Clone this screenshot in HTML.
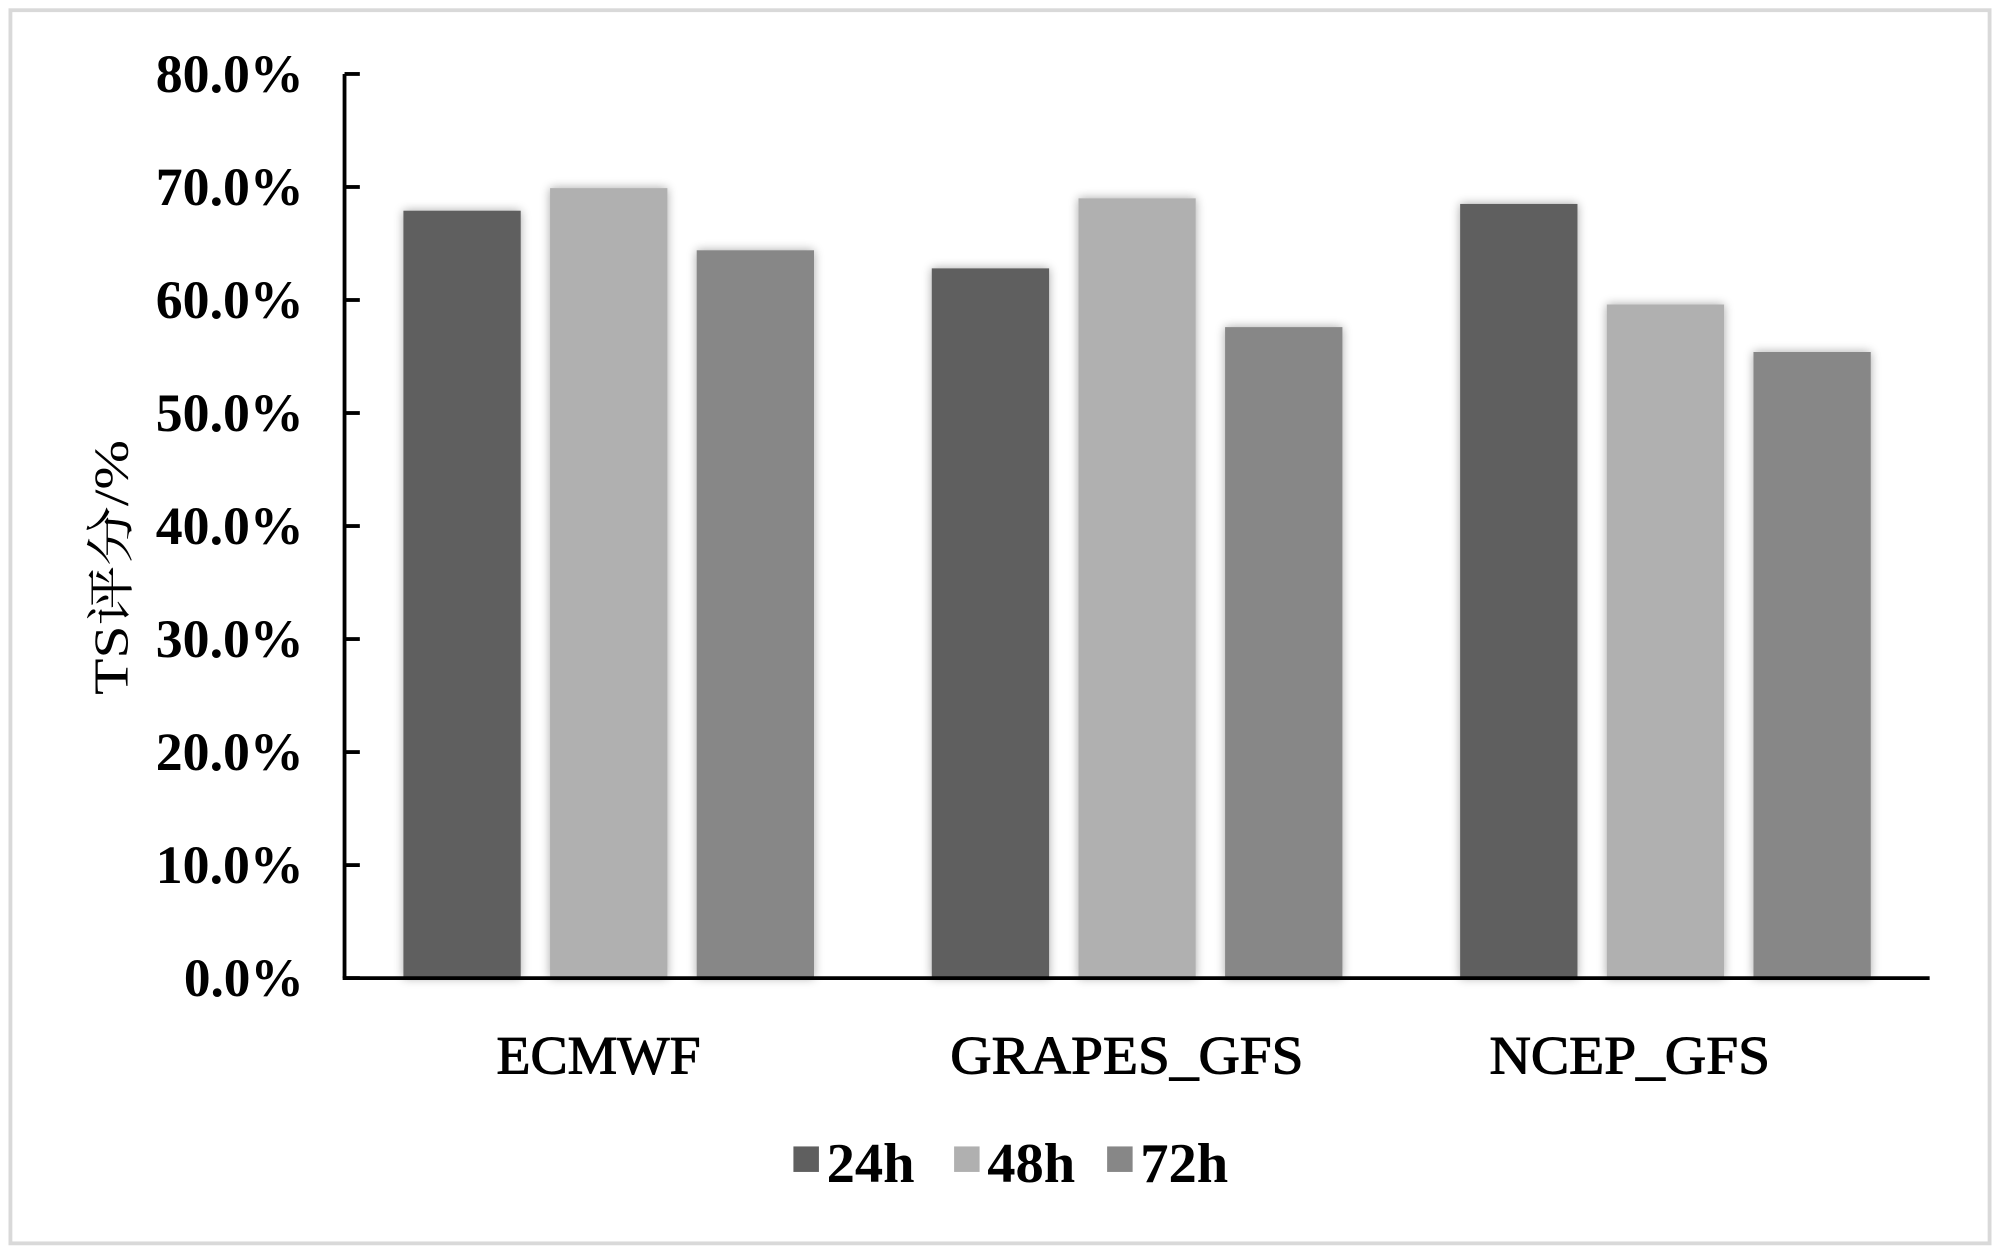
<!DOCTYPE html>
<html><head><meta charset="utf-8"><style>
html,body{margin:0;padding:0;background:#fff}
svg{display:block}
text{font-family:"Liberation Serif","Times New Roman","Noto Serif CJK SC",serif;fill:#000}
</style></head><body>
<svg id="chart" width="2000" height="1251" viewBox="0 0 1568 981" xmlns="http://www.w3.org/2000/svg" font-family="Liberation Serif, Noto Serif CJK SC, serif">
<defs><filter id="sh" x="-20%" y="-5%" width="140%" height="110%"><feGaussianBlur in="SourceAlpha" stdDeviation="4"/><feComponentTransfer><feFuncA type="linear" slope="0.35"/></feComponentTransfer><feMerge><feMergeNode/><feMergeNode in="SourceGraphic"/></feMerge></filter></defs>
<rect x="8" y="8" width="1552" height="967" fill="#fff" stroke="#d9d9d9" stroke-width="3"/>
<g id="bars"></g>
<g id="axes"></g>
<text transform="translate(100,445) rotate(-90)" text-anchor="middle" font-size="38" textLength="200" lengthAdjust="spacingAndGlyphs">TS评分/%</text>
<g id="legend"></g>
</svg>
<script>
const categories = ["ECMWF", "GRAPES_GFS", "NCEP_GFS"];
const seriesNames = ["24h", "48h", "72h"];
const v24 = [67.9, 62.8, 68.5];
const v48 = [69.9, 69.0, 59.6];
const v72 = [64.4, 57.6, 55.4];
const yTicks = [0, 10, 20, 30, 40, 50, 60, 70, 80];
const yTickLabels = ["0.0%","10.0%","20.0%","30.0%","40.0%","50.0%","60.0%","70.0%","80.0%"];

const NS = "http://www.w3.org/2000/svg";
const colors = ["#5f5f5f", "#b0b0b0", "#878787"];
const X0 = 270, X1 = 1513, Y0 = 767, Y1 = 58, YMAX = 80;
const y = v => Y0 - (v / YMAX) * (Y0 - Y1);
const catW = (X1 - X0) / categories.length;
const catC = i => X0 + catW * (i + 0.5);
const barW = 92, step = 115;
function mk(tag, attrs, parent) { const e = document.createElementNS(NS, tag); for (const k in attrs) e.setAttribute(k, attrs[k]); parent.appendChild(e); return e; }

const bars = document.getElementById("bars");
const series = [v24, v48, v72];
series.forEach((vals, s) => {
  vals.forEach((v, i) => {
    const cx = catC(i) + (s - 1) * step;
    const r = mk("rect", { x: cx - barW / 2, y: y(v), width: barW, height: Y0 - y(v), fill: colors[s], filter: "url(#sh)" }, bars);
    
    
  });
});

const axes = document.getElementById("axes");
const ya = mk("line", { x1: X0, y1: Y1, x2: X0, y2: Y0, stroke: "#000", "stroke-width": 3 }, axes);


const xa = mk("line", { x1: X0 - 1.5, y1: Y0, x2: X1, y2: Y0, stroke: "#000", "stroke-width": 3 }, axes);


yTicks.forEach((t, i) => {
  const tk = mk("line", { x1: X0, y1: y(t), x2: X0 + 12, y2: y(t), stroke: "#000", "stroke-width": 3 }, axes);
  
  
  const lab = yTickLabels[i];
  const tl = mk("text", { x: 238, y: y(t) + 14, "text-anchor": "end", "font-size": 42, "font-weight": "bold", textLength: lab.length === 4 ? 94 : 116, lengthAdjust: "spacingAndGlyphs" }, axes);
  tl.textContent = lab;
  
  
});
const catLen = [160, 277, 220];
categories.forEach((c, i) => {
  const t = mk("text", { x: catC(i) - 8 - catLen[i] / 2 - (i === 2 ? 20 : 0), y: 842, "font-size": 42, stroke: "#000", "stroke-width": 0.8, textLength: catLen[i], lengthAdjust: "spacingAndGlyphs" }, axes);
  t.textContent = c;
  
  
});

const legend = document.getElementById("legend");
const lx = [622, 748, 868];
seriesNames.forEach((n, s) => {
  const g = mk("g", {}, legend);
  
  
  mk("rect", { x: lx[s], y: 899, width: 20, height: 20, fill: colors[s] }, g);
  const t = mk("text", { x: lx[s] + 26, y: 927, "font-size": 44, "font-weight": "bold", textLength: 69, lengthAdjust: "spacingAndGlyphs" }, g);
  t.textContent = n;
});
</script>
</body></html>
